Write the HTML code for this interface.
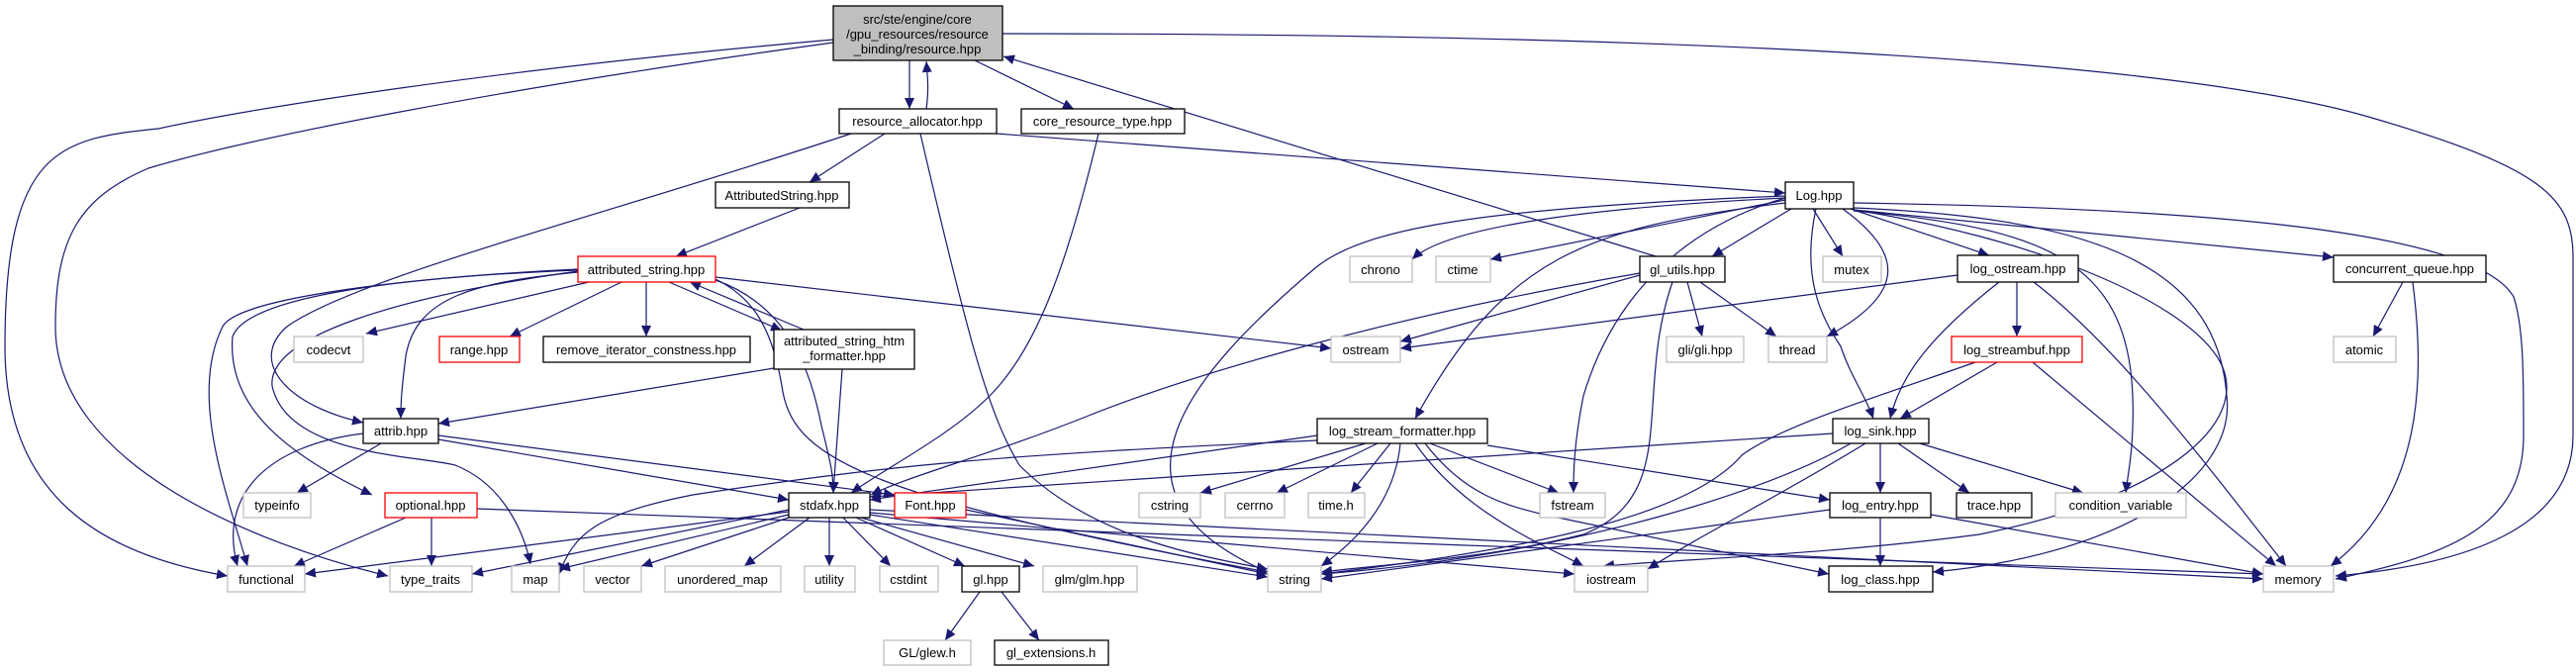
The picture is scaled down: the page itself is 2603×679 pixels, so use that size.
<!DOCTYPE html>
<html><head><meta charset="utf-8"><style>
html,body{margin:0;padding:0;background:#fff}
svg{display:block}
text{font-family:"Liberation Sans",Arial,sans-serif;font-size:13px;text-anchor:middle}
.e{fill:none;stroke:#191970;stroke-width:1.2}
.g{fill:#fff;stroke:#bfbfbf;stroke-width:1.3}
.b{fill:#fff;stroke:#000;stroke-width:1.3}
.r{fill:#fff;stroke:#ff0000;stroke-width:1.3}
</style></head><body>
<svg width="2603" height="679" viewBox="0 0 2603 679" xmlns="http://www.w3.org/2000/svg">
<defs><marker id="a" markerUnits="userSpaceOnUse" markerWidth="12" markerHeight="10" refX="11" refY="5" orient="auto"><path d="M0,0 L11,5 L0,10 z" fill="#191970"/></marker></defs>
<g class="e" marker-end="url(#a)">
<path d="M919,61 L919,110"/>
<path d="M936,110 C939,90 937,75 936,62"/>
<path d="M985,61 L1085,110"/>
<path d="M1673,259 L1014,57"/>
<path d="M842,40 C500,70 250,110 160,130 C60,140 5,150 5,350 C5,500 100,560 230,582"/>
<path d="M842,43 C500,90 250,140 150,170 C80,200 56,240 56,330 C56,470 260,550 392,582"/>
<path d="M1013,34 C1700,34 2200,60 2400,120 C2570,170 2600,200 2600,260 L2600,440 C2600,530 2500,570 2360,582"/>
<path d="M894,135 L818,184"/>
<path d="M860,135 C620,215 360,280 290,330 C250,365 290,410 367,427"/>
<path d="M1007,135 L1804,195"/>
<path d="M930,135 C980,350 1000,420 1030,470 C1100,540 1200,560 1281,575"/>
<path d="M1110,135 C1080,260 1050,350 1000,400 C960,440 900,470 860,498"/>
<path d="M808,210 L683,259"/>
<path d="M595,285 L370,337"/>
<path d="M628,285 L515,340"/>
<path d="M653,285 L653,340"/>
<path d="M676,285 L790,334"/>
<path d="M812,333 L697,285"/>
<path d="M584,275 C480,285 420,300 410,360 C405,400 405,410 405,423"/>
<path d="M584,272 C420,280 240,300 225,330 C190,400 230,500 250,572"/>
<path d="M584,273 C400,280 250,300 235,340 C230,400 270,450 376,500"/>
<path d="M584,274 C400,300 270,340 275,390 C290,460 420,460 460,470 C510,490 530,540 536,570"/>
<path d="M723,280 L1345,352"/>
<path d="M723,283 C800,310 820,380 830,430 C840,470 842,480 842,498"/>
<path d="M723,282 C760,300 780,330 790,390 C800,460 860,500 1281,578"/>
<path d="M782,372 L443,428"/>
<path d="M851,373 L842,498"/>
<path d="M385,448 L300,498"/>
<path d="M367,438 C270,450 220,500 240,572"/>
<path d="M443,444 L797,505"/>
<path d="M443,440 L904,500"/>
<path d="M410,523 L297,572"/>
<path d="M436,523 L436,572"/>
<path d="M482,514 C800,530 1800,560 2287,580"/>
<path d="M797,517 L308,580"/>
<path d="M797,515 L477,580"/>
<path d="M797,520 L565,575"/>
<path d="M797,523 L648,572"/>
<path d="M818,523 L752,572"/>
<path d="M838,523 L838,572"/>
<path d="M852,523 L900,572"/>
<path d="M865,523 L975,572"/>
<path d="M870,523 L1045,572"/>
<path d="M879,520 L1281,583"/>
<path d="M879,518 L1591,580"/>
<path d="M879,515 L2287,585"/>
<path d="M976,515 L1281,580"/>
<path d="M990,598 L955,647"/>
<path d="M1012,598 L1050,647"/>
<path d="M1804,200 C1600,210 1460,230 1427,262"/>
<path d="M1804,202 L1506,262"/>
<path d="M1810,211 L1730,259"/>
<path d="M1804,205 C1600,230 1520,260 1430,423"/>
<path d="M1804,198 C1500,210 1380,230 1330,270 C1200,380 1100,500 1281,578"/>
<path d="M1804,200 C1700,230 1630,300 1600,400 C1590,450 1590,480 1590,498"/>
<path d="M1832,211 L1862,259"/>
<path d="M1862,211 C1930,260 1920,300 1846,340"/>
<path d="M1835,211 C1820,280 1840,320 1860,350 C1870,380 1885,400 1893,423"/>
<path d="M1870,211 L2010,258"/>
<path d="M1873,213 C2060,230 2150,260 2155,400 C2157,450 2150,480 2148,498"/>
<path d="M1873,212 C2050,240 2200,300 2240,360 C2280,420 2200,500 2000,540 C1850,560 1700,565 1620,572"/>
<path d="M1873,210 C2100,220 2240,260 2250,400 C2260,480 2150,560 1953,578"/>
<path d="M1873,212 L2358,260"/>
<path d="M1873,205 C2200,210 2500,230 2540,300 C2550,330 2550,380 2550,440 C2550,530 2480,560 2360,585"/>
<path d="M1657,278 L1415,345"/>
<path d="M1657,276 C1400,320 1200,380 1100,420 C1000,460 920,480 880,500"/>
<path d="M1705,285 L1720,340"/>
<path d="M1718,285 L1795,340"/>
<path d="M1690,285 C1650,400 1700,500 1600,540 C1500,565 1400,570 1335,578"/>
<path d="M1978,278 L1415,352"/>
<path d="M2038,285 L2038,340"/>
<path d="M2020,285 C1950,340 1920,380 1910,423"/>
<path d="M2055,285 C2140,350 2230,470 2310,572"/>
<path d="M2018,366 L1920,423"/>
<path d="M1996,366 C1900,400 1800,430 1760,460 C1700,530 1500,560 1335,580"/>
<path d="M2054,366 L2300,572"/>
<path d="M1331,440 L879,505"/>
<path d="M1331,445 C1000,460 900,470 700,500 C600,520 580,540 565,580"/>
<path d="M1380,448 L1213,498"/>
<path d="M1392,448 L1290,498"/>
<path d="M1405,448 L1365,498"/>
<path d="M1415,448 C1410,500 1380,540 1335,572"/>
<path d="M1445,448 L1575,498"/>
<path d="M1430,448 C1480,520 1560,550 1600,572"/>
<path d="M1440,448 C1480,500 1520,510 1560,520 C1700,550 1800,570 1848,580"/>
<path d="M1503,450 L1849,505"/>
<path d="M1852,438 L879,502"/>
<path d="M1900,448 L1900,498"/>
<path d="M1918,448 L1990,498"/>
<path d="M1940,448 L2105,498"/>
<path d="M1870,448 C1800,490 1600,560 1335,580"/>
<path d="M1885,448 C1800,500 1720,540 1665,575"/>
<path d="M1900,523 L1900,572"/>
<path d="M1951,520 L2287,580"/>
<path d="M1849,515 L1335,585"/>
<path d="M2428,285 L2398,340"/>
<path d="M2438,285 C2450,380 2450,500 2355,572"/>
</g>
<rect x="842" y="6" width="171" height="55" fill="#bfbfbf" stroke="#000" stroke-width="1.3"/>
<text x="927" y="24">src/ste/engine/core</text>
<text x="927" y="39">/gpu_resources/resource</text>
<text x="927" y="54">_binding/resource.hpp</text>
<g>
<rect class="b" x="848" y="110" width="159" height="25"/><text x="927" y="127">resource_allocator.hpp</text>
<rect class="b" x="1032" y="110" width="165" height="25"/><text x="1114" y="127">core_resource_type.hpp</text>
<rect class="b" x="723" y="184" width="135" height="26"/><text x="790" y="202">AttributedString.hpp</text>
<rect class="r" x="584" y="259" width="139" height="26"/><text x="653" y="277">attributed_string.hpp</text>
<rect class="g" x="297" y="340" width="70" height="26"/><text x="332" y="358">codecvt</text>
<rect class="r" x="444" y="340" width="81" height="26"/><text x="484" y="358">range.hpp</text>
<rect class="b" x="549" y="340" width="209" height="26"/><text x="653" y="358">remove_iterator_constness.hpp</text>
<rect class="b" x="782" y="333" width="142" height="40"/><text x="853" y="349">attributed_string_htm</text><text x="853" y="364">_formatter.hpp</text>
<rect class="b" x="367" y="423" width="76" height="25"/><text x="405" y="440">attrib.hpp</text>
<rect class="g" x="246" y="498" width="68" height="25"/><text x="280" y="515">typeinfo</text>
<rect class="r" x="389" y="498" width="93" height="25"/><text x="435" y="515">optional.hpp</text>
<rect class="b" x="797" y="498" width="82" height="25"/><text x="838" y="515">stdafx.hpp</text>
<rect class="r" x="904" y="498" width="72" height="25"/><text x="940" y="515">Font.hpp</text>
<rect class="g" x="230" y="572" width="78" height="26"/><text x="269" y="590">functional</text>
<rect class="g" x="394" y="572" width="83" height="26"/><text x="435" y="590">type_traits</text>
<rect class="g" x="517" y="572" width="48" height="26"/><text x="541" y="590">map</text>
<rect class="g" x="590" y="572" width="58" height="26"/><text x="619" y="590">vector</text>
<rect class="g" x="672" y="572" width="117" height="26"/><text x="730" y="590">unordered_map</text>
<rect class="g" x="813" y="572" width="51" height="26"/><text x="838" y="590">utility</text>
<rect class="g" x="889" y="572" width="59" height="26"/><text x="918" y="590">cstdint</text>
<rect class="b" x="972" y="572" width="58" height="26"/><text x="1001" y="590">gl.hpp</text>
<rect class="g" x="1054" y="572" width="95" height="26"/><text x="1101" y="590">glm/glm.hpp</text>
<rect class="g" x="1281" y="572" width="54" height="26"/><text x="1308" y="590">string</text>
<rect class="g" x="1591" y="572" width="74" height="26"/><text x="1628" y="590">iostream</text>
<rect class="g" x="893" y="647" width="88" height="25"/><text x="937" y="664">GL/glew.h</text>
<rect class="b" x="1005" y="647" width="115" height="25"/><text x="1062" y="664">gl_extensions.h</text>
<rect class="g" x="1151" y="498" width="62" height="25"/><text x="1182" y="515">cstring</text>
<rect class="g" x="1238" y="498" width="60" height="25"/><text x="1268" y="515">cerrno</text>
<rect class="g" x="1322" y="498" width="57" height="25"/><text x="1350" y="515">time.h</text>
<rect class="g" x="1556" y="498" width="66" height="25"/><text x="1589" y="515">fstream</text>
<rect class="b" x="1331" y="423" width="172" height="25"/><text x="1417" y="440">log_stream_formatter.hpp</text>
<rect class="g" x="1345" y="340" width="70" height="26"/><text x="1380" y="358">ostream</text>
<rect class="g" x="1684" y="340" width="78" height="26"/><text x="1723" y="358">gli/gli.hpp</text>
<rect class="g" x="1787" y="340" width="59" height="26"/><text x="1816" y="358">thread</text>
<rect class="g" x="1364" y="259" width="63" height="26"/><text x="1395" y="277">chrono</text>
<rect class="g" x="1451" y="259" width="55" height="26"/><text x="1478" y="277">ctime</text>
<rect class="b" x="1657" y="259" width="86" height="26"/><text x="1700" y="277">gl_utils.hpp</text>
<rect class="b" x="1804" y="184" width="69" height="27"/><text x="1838" y="202">Log.hpp</text>
<rect class="g" x="1842" y="259" width="59" height="26"/><text x="1871" y="277">mutex</text>
<rect class="b" x="1978" y="258" width="122" height="27"/><text x="2039" y="276">log_ostream.hpp</text>
<rect class="b" x="2358" y="258" width="154" height="27"/><text x="2435" y="276">concurrent_queue.hpp</text>
<rect class="r" x="1972" y="340" width="132" height="26"/><text x="2038" y="358">log_streambuf.hpp</text>
<rect class="g" x="2358" y="340" width="63" height="26"/><text x="2389" y="358">atomic</text>
<rect class="b" x="1852" y="423" width="97" height="25"/><text x="1900" y="440">log_sink.hpp</text>
<rect class="b" x="1849" y="498" width="102" height="25"/><text x="1900" y="515">log_entry.hpp</text>
<rect class="b" x="1977" y="498" width="76" height="25"/><text x="2015" y="515">trace.hpp</text>
<rect class="g" x="2077" y="498" width="132" height="25"/><text x="2143" y="515">condition_variable</text>
<rect class="b" x="1848" y="572" width="105" height="26"/><text x="1900" y="590">log_class.hpp</text>
<rect class="g" x="2287" y="572" width="71" height="26"/><text x="2322" y="590">memory</text>
</g>
</svg>
</body></html>
